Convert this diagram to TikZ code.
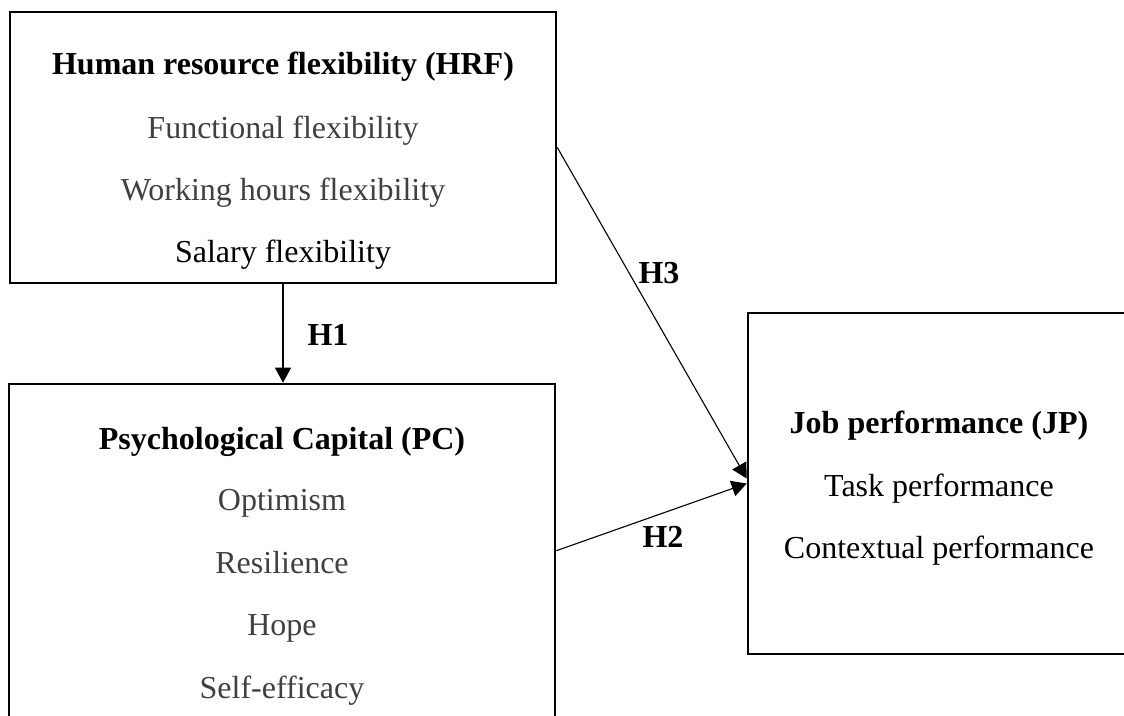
\documentclass[tikz,border=0pt]{standalone}
\usepackage{fontspec}
\setmainfont{Liberation Serif}
\usetikzlibrary{arrows.meta,calc}
\definecolor{itemgrey}{RGB}{64,64,64}
\begin{document}
\begin{tikzpicture}[x=1pt,y=-1pt,
  every node/.style={font=\fontsize{32}{38}\selectfont},
  construct/.style={draw,line width=2.6pt,inner sep=0pt,rectangle},
  heading/.style={anchor=base,font=\fontsize{32}{38}\selectfont\bfseries},
  item/.style={anchor=base,text=itemgrey},
  itemdark/.style={anchor=base,text=black},
  hyp/.style={font=\fontsize{32}{38}\selectfont\bfseries},
  link/.style={line width=1.1pt,-{Triangle[length=15pt,width=16pt]}}]
\useasboundingbox (0,0) rectangle (1124,715);
\clip (0,0) rectangle (1124,715);

% construct boxes
\node[construct,minimum width=546pt,minimum height=271pt] (hrf) at (283,147.5) {};
\node[construct,minimum width=546pt,minimum height=370pt] (pc) at (282,569) {};
\node[construct,minimum width=382pt,minimum height=341pt] (jp) at (939,483.5) {};

% human resource flexibility
\node[heading] (hrfT) at (283,74) {Human resource flexibility (HRF)};
\node[item] (hrf1) at (283,138) {Functional flexibility};
\node[item] (hrf2) at (283,200) {Working hours flexibility};
\node[itemdark] (hrf3) at (283,262) {Salary flexibility};

% psychological capital
\node[heading] (pcT) at (282,449) {Psychological Capital (PC)};
\node[item] (pc1) at (282,510) {Optimism};
\node[item] (pc2) at (282,573) {Resilience};
\node[item] (pc3) at (282,635) {Hope};
\node[item] (pc4) at (282,698) {Self-efficacy};

% job performance
\node[heading] (jpT) at (939,433) {Job performance (JP)};
\node[itemdark] (jp1) at (939,496) {Task performance};
\node[itemdark] (jp2) at (939,558) {Contextual performance};

% hypothesised paths
\coordinate (pcOut) at ($(pc.north east)+(0,168)$);
\coordinate (jpIn3) at ($(jp.west)+(0,-5)$);
\draw[link] (hrf.south) -- (hrf.south |- pc.north);
\draw[link] (hrf.east) -- (jpIn3);
\draw[link] (pcOut) -- (jp.west);

\node[hyp] (h1) at (328,335) {H1};
\node[hyp] (h3) at (659,273) {H3};
\node[hyp] (h2) at (663,537) {H2};
\end{tikzpicture}
\end{document}
